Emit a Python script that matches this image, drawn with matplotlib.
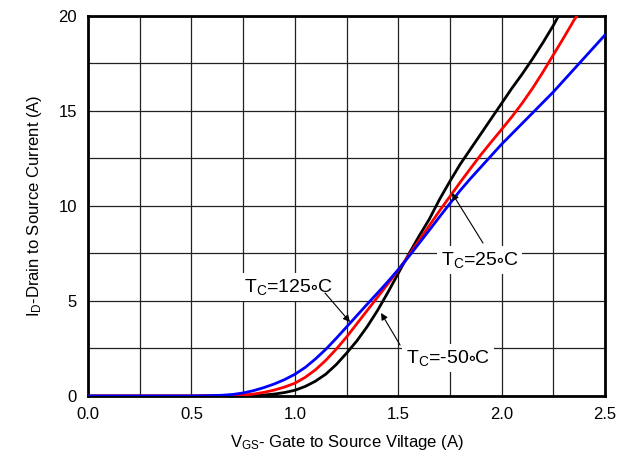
import matplotlib
matplotlib.use("Agg")
import matplotlib.pyplot as plt

plt.rcParams['font.family'] = ['Liberation Sans', 'DejaVu Sans']
plt.rcParams['mathtext.default'] = 'regular'

# drain current, one list per case temperature
v_m50 = [0.0, 0.5, 0.8, 0.85, 0.9, 0.95, 1.0, 1.05, 1.1, 1.15, 1.2, 1.25, 1.3, 1.35, 1.4,
         1.45, 1.5, 1.55, 1.6, 1.65, 1.7, 1.75, 1.8, 1.85, 1.9, 1.95, 2.0, 2.05, 2.1,
         2.15, 2.2, 2.25, 2.275]
i_m50 = [0, 0, 0.02, 0.05, 0.1, 0.18, 0.3, 0.5, 0.78, 1.15, 1.65, 2.25, 2.9, 3.65, 4.5,
         5.45, 6.45, 7.45, 8.4, 9.3, 10.35, 11.3, 12.2, 13.0, 13.8, 14.6, 15.4, 16.2, 16.95,
         17.75, 18.6, 19.5, 20.0]

v_25 = [0.0, 0.5, 0.7, 0.75, 0.8, 0.85, 0.9, 0.95, 1.0, 1.05, 1.1, 1.15, 1.2, 1.25, 1.3,
        1.35, 1.4, 1.45, 1.5, 1.55, 1.6, 1.65, 1.7, 1.75, 1.8, 1.85, 1.9, 1.95, 2.0, 2.05,
        2.1, 2.15, 2.2, 2.25, 2.3, 2.35, 2.364]
i_25 = [0, 0, 0.02, 0.05, 0.1, 0.19, 0.31, 0.47, 0.67, 0.98, 1.38, 1.88, 2.46, 3.1, 3.8,
        4.5, 5.2, 5.9, 6.62, 7.38, 8.17, 8.96, 9.75, 10.5, 11.25, 11.98, 12.7, 13.37, 14.03, 14.7,
        15.42, 16.2, 17.05, 17.95, 18.85, 19.78, 20.0]

v_125 = [0.0, 0.5, 0.6, 0.65, 0.7, 0.75, 0.8, 0.85, 0.9, 0.95, 1.0, 1.05, 1.1, 1.15, 1.2,
         1.25, 1.3, 1.35, 1.4, 1.45, 1.5, 1.55, 1.6, 1.65, 1.7, 1.75, 1.8, 1.85, 1.9, 1.95,
         2.0, 2.05, 2.1, 2.15, 2.2, 2.25, 2.3, 2.35, 2.4, 2.45, 2.5]
i_125 = [0, 0, 0.02, 0.04, 0.08, 0.16, 0.28, 0.44, 0.63, 0.86, 1.14, 1.5, 1.95, 2.46, 3.03,
         3.63, 4.23, 4.83, 5.42, 6.02, 6.65, 7.32, 8.02, 8.72, 9.43, 10.13, 10.82, 11.45, 12.05, 12.65,
         13.25, 13.8, 14.35, 14.9, 15.45, 16.0, 16.6, 17.2, 17.8, 18.4, 19.0]

x_ticks = [0.0, 0.5, 1.0, 1.5, 2.0, 2.5]
y_ticks = [0, 5, 10, 15, 20]

fig = plt.figure(figsize=(6.31, 4.62), dpi=100)
ax = fig.add_axes([0.1395, 0.1429, 0.8193, 0.8225])

ax.plot(v_m50, i_m50, color='black', lw=2, zorder=3)
ax.plot(v_25, i_25, color='red', lw=2, zorder=3)
ax.plot(v_125, i_125, color='blue', lw=2, zorder=3)

ax.set_xlim(0, 2.5)
ax.set_ylim(0, 20)
ax.set_xticks(x_ticks)
ax.set_xticklabels(['%.1f' % t for t in x_ticks])
ax.set_yticks(y_ticks)
ax.set_xticks([0.25, 0.75, 1.25, 1.75, 2.25], minor=True)
ax.set_yticks([2.5, 7.5, 12.5, 17.5], minor=True)
ax.grid(True, which='both', color='#222222', lw=0.9)
ax.tick_params(which='both', length=0, labelsize=12)
ax.tick_params(axis='x', pad=8)
ax.tick_params(axis='y', pad=8)
for s in ax.spines.values():
    s.set_linewidth(2)

ax.set_xlabel('V$_{GS}$- Gate to Source Viltage (A)', fontsize=12, labelpad=8)
ax.set_ylabel('I$_D$-Drain to Source Current (A)', fontsize=12, labelpad=10)

box = dict(facecolor='white', edgecolor='none', pad=3)
arr = dict(arrowstyle='-|>', color='black', lw=0.8, mutation_scale=10, shrinkA=0, shrinkB=0)

ax.text(0.97, 5.49, 'T$_C$=125${\\circ}$C', fontsize=14, ha='center', va='baseline', bbox=box, zorder=4)
ax.annotate('', xy=(1.267, 3.89), xytext=(1.146, 5.42), arrowprops=arr, zorder=4)

ax.text(1.893, 6.89, 'T$_C$=25${\\circ}$C', fontsize=14, ha='center', va='baseline', bbox=box, zorder=4)
ax.annotate('', xy=(1.76, 10.68), xytext=(1.91, 8.05), arrowprops=arr, zorder=4)

ax.text(1.74, 1.72, 'T$_C$=-50${\\circ}$C', fontsize=14, ha='center', va='baseline', bbox=box, zorder=4)
ax.annotate('', xy=(1.417, 4.37), xytext=(1.509, 2.68), arrowprops=arr, zorder=4)

fig.savefig('out.png', dpi=100)
